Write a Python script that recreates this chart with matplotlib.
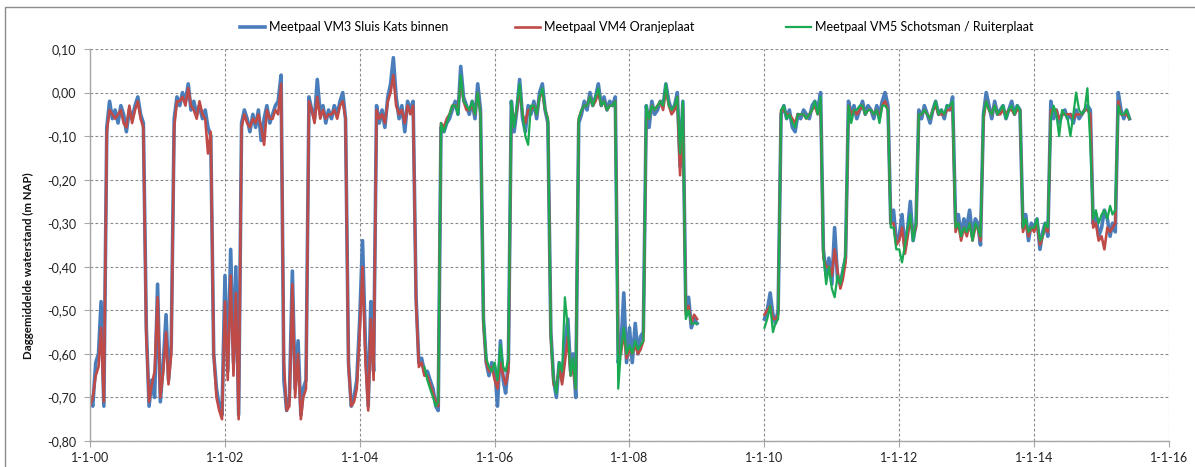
import datetime as dt
import numpy as np
import matplotlib
matplotlib.use("Agg")
import matplotlib.pyplot as plt
import matplotlib.dates as mdates
from matplotlib.ticker import FuncFormatter
from matplotlib.patches import Rectangle

# ---- data: daily-mean water level (cm NAP) read at the 1st and 16th of each month
NA = None
vm3_cm = (
    [-70, -72, -62, -60, -48, -72, -8, -2, -6, -4, -7, -3, -5, -9, -4, -6, -3, -1, -5, -7, -54, -72, -66, -70]  # 2000
    + [-44, -71, -62, -51, -66, -58, -6, -1, -3, 0, -2, 2, -4, -2, -5, -3, -6, -4, -8, -10, -60, -68, -72, -74]  # 2001
    + [-42, -64, -36, -62, -40, -74, -7, -4, -6, -9, -5, -8, -4, -11, -6, -3, -7, -5, -3, -2, 4, -66, -73, -70]  # 2002
    + [-41, -68, -57, -74, -68, -66, -1, -4, -6, 3, -5, -3, -7, -4, -6, -3, -5, -2, 0, -6, -62, -72, -70, -66]  # 2003
    + [-52, -34, -58, -72, -48, -64, -3, -7, -4, -8, -1, 2, 8, -1, -6, -3, -9, -2, -4, -2, -47, -62, -61, -64]  # 2004
    + [-64, -66, -68, -72, -73, -8, -9, -7, -6, -4, -2, -5, 6, -1, -3, -5, -2, -6, 2, -4, -52, -62, -65, -62]  # 2005
    + [-63, -72, -57, -66, -69, -62, -2, -9, -4, 3, -6, -9, -3, -5, -2, -6, 0, 2, -4, -7, -55, -66, -70, -62]  # 2006
    + [-66, -58, -52, -64, -60, -70, -7, -5, -2, -4, 0, -3, -1, 2, -3, -1, -4, -2, -3, -1, -62, -58, -46, -62]  # 2007
    + [-54, -62, -53, -60, -56, -55, -3, -8, -2, -5, -4, -2, -3, 2, -2, -4, -3, 0, -17, -2, -50, -47, -54, -52]  # 2008
    + [-53] + [NA] * 23                                                                                           # 2009 (no data)
    + [-52, -50, -46, -51, -53, -50, -5, -3, -6, -4, -8, -9, -5, -6, -4, -5, -6, -3, -2, -4, 0, -36, -42, -38]  # 2010
    + [-44, -31, -43, -44, -41, -38, -2, -5, -3, -6, -4, -2, -5, -3, -4, -6, -3, -5, -2, 0, -3, -30, -27, -34]  # 2011
    + [-33, -28, -36, -31, -25, -34, -30, -4, -6, -3, -5, -7, -4, -2, -5, -4, -6, -3, -4, -1, -30, -28, -33, -29]  # 2012
    + [-31, -27, -33, -29, -30, -35, -5, 0, -3, -6, -2, -5, -4, -3, -6, -4, -2, -5, -3, -4, -31, -28, -34, -30]  # 2013
    + [-31, -29, -36, -32, -30, -33, -2, -6, -4, -7, -5, -4, -6, -5, -7, -4, -6, -5, -4, -3, -4, -30, -28, -33]  # 2014
    + [-31, -27, -29, -33, -30, -32, 0, -4, -6, -4, -6]                                                         # 2015
)
vm4_cm = (
    [-72, -70, -65, -63, -54, -71, -9, -4, -5, -6, -5, -4, -7, -8, -3, -7, -4, -2, -6, -8, -56, -71, -67, -64]
    + [-47, -70, -64, -55, -67, -60, -8, -2, -2, -1, -3, 1, -3, -4, -6, -2, -5, -6, -14, -9, -60, -70, -73, -75]
    + [-48, -66, -42, -65, -46, -75, -8, -5, -7, -8, -6, -7, -5, -8, -12, -4, -6, -6, -4, -5, 2, -62, -73, -72]
    + [-44, -70, -60, -75, -70, -68, -2, -4, -7, -1, -6, -4, -6, -5, -5, -4, -6, -3, -2, -6, -63, -72, -71, -68]
    + [-55, -40, -62, -73, -52, -66, -4, -6, -5, -7, -2, 0, 4, -3, -5, -4, -7, -3, -5, -3, -48, -63, -62, -65]
    + [-65, -67, -69, -71, -72, -7, -8, -6, -5, -3, -3, -4, 3, -2, -4, -4, -3, -5, 0, -5, -53, -62, -64, -63]
    + [-66, -68, -62, -65, -67, -64, -3, -7, -4, 1, -5, -7, -4, -4, -3, -5, -1, 0, -4, -6, -56, -67, -68, -63]
    + [-67, -62, -56, -65, -63, -68, -6, -4, -3, -3, -1, -3, -2, 0, -3, -2, -4, -3, -3, -2, -60, -60, -55, -61]
    + [-59, -60, -58, -60, -59, -57, -4, -6, -3, -4, -3, -2, -4, 1, -3, -5, -4, -1, -19, -3, -51, -49, -53, -51]
    + [-52] + [NA] * 23
    + [-51, -50, -49, -52, -52, -51, -4, -4, -5, -5, -6, -7, -5, -5, -5, -6, -5, -4, -3, -5, -2, -38, -40, -40]
    + [-42, -36, -41, -45, -43, -39, -3, -5, -4, -5, -4, -3, -5, -4, -4, -5, -4, -6, -3, -2, -4, -30, -30, -35]
    + [-34, -31, -37, -33, -29, -33, -31, -5, -5, -4, -5, -6, -4, -3, -5, -5, -5, -4, -4, -3, -32, -30, -34, -31]
    + [-33, -30, -34, -31, -31, -34, -6, -2, -4, -5, -3, -5, -5, -4, -5, -4, -4, -5, -4, -4, -32, -30, -33, -31]
    + [-32, -30, -35, -33, -31, -32, -4, -4, -4, -6, -5, -5, -5, -5, -6, -5, -5, -5, -4, -4, -5, -31, -30, -34]
    + [-33, -36, -31, -32, -31, -30, -2, -5, -5, -5, -6]
)
vm5_cm = (
    [NA] * 96 + [NA] * 23 + [-63]                                                                               # 2000-2004
    + [-66, -68, -70, -72, -71, -7, -9, -7, -5, -3, -3, -5, 4, -2, -3, -4, -2, -5, 0, -5, -52, -61, -63, -64]
    + [-62, -66, -58, -63, -64, -61, -2, -8, -3, 2, -5, -10, -12, -3, -3, -5, -1, 1, -4, -6, -56, -66, -69, -62]
    + [-64, -47, -54, -65, -61, -68, -6, -4, -3, -3, -1, -3, -1, 1, -3, -2, -4, -3, -3, -2, -68, -59, -54, -60]
    + [-58, -60, -57, -59, -58, -57, -3, -6, -3, -4, -3, -2, -3, 2, -3, -4, -3, -1, -14, -2, -52, -50, -53, -53]
    + [-53] + [NA] * 23
    + [-54, -52, -49, -55, -53, -52, -4, -3, -6, -5, -7, -8, -5, -5, -5, -6, -5, -4, -2, -5, -1, -37, -44, -40]
    + [-45, -47, -42, -44, -41, -37, -3, -7, -4, -4, -3, -3, -5, -4, -4, -5, -4, -7, -3, -3, -4, -31, -31, -36]
    + [-36, -39, -35, -31, -28, -34, -30, -5, -5, -4, -5, -6, -4, -2, -5, -4, -5, -3, -3, -2, -31, -30, -33, -31]
    + [-32, -30, -34, -30, -31, -33, -5, -2, -4, -5, -3, -5, -4, -3, -6, -4, -3, -5, -3, -4, -31, -29, -32, -31]
    + [-31, -29, -34, -33, -30, -31, -6, -3, -5, -10, -4, -5, -6, -10, -5, 0, -4, -5, -4, 1, -12, -29, -27, -30]
    + [-28, -27, -29, -26, -28, -27, -3, -5, -5, -4, -6]
)
series_names = ["Meetpaal VM3 Sluis Kats binnen", "Meetpaal VM4 Oranjeplaat",
                "Meetpaal VM5 Schotsman / Ruiterplaat"]
y_ticks = [0.10, 0.0, -0.10, -0.20, -0.30, -0.40, -0.50, -0.60, -0.70, -0.80]

# sample dates: 1st and 16th of every month, Jan 2000 .. 1 Jun 2015
dates = []
for yr in range(2000, 2016):
    for mo in range(1, 13):
        for dy in (1, 16):
            d = dt.date(yr, mo, dy)
            if d <= dt.date(2015, 6, 1):
                dates.append(d)

def to_m(lst):
    return np.array(lst, dtype=float) / 100.0

plt.rcParams['font.family'] = ['Lato', 'DejaVu Sans']
W, H = 1195, 467
fig = plt.figure(figsize=(W / 100, H / 100), dpi=100)
ax = fig.add_axes([90 / W, 26 / H, (1169 - 90) / W, (441 - 49) / H])

colors = ["#4A7EBB", "#BE4B48", "#1BAA54"]
widths = [2.6, 1.9, 1.6]
handles = []
for vals, name, c, w in zip([vm3_cm, vm4_cm, vm5_cm], series_names, colors, widths):
    h, = ax.plot(dates, to_m(vals), color=c, lw=w, label=name, solid_joinstyle='round')
    handles.append(h)

ax.set_xlim(dt.date(2000, 1, 1), dt.date(2016, 1, 1))
ax.set_ylim(-0.80, 0.10)
ax.set_yticks(y_ticks)
ax.yaxis.set_major_formatter(FuncFormatter(lambda v, p: f"{v:.2f}".replace(".", ",").replace("-0,00", "0,00")))
ax.xaxis.set_major_locator(mdates.YearLocator(2))

def fmt_date(v, p):
    d = mdates.num2date(v)
    return f"{d.day}-{d.month}-{d.year % 100:02d}"

ax.xaxis.set_major_formatter(FuncFormatter(fmt_date))

grid_kw = dict(color="#8a8a8a", lw=0.8, ls=(0, (2.5, 2)))
ax.grid(True, which='major', axis='both', **grid_kw)
ax.set_axisbelow(True)
for s in ("top", "right"):
    ax.spines[s].set_visible(False)
for s in ("left", "bottom"):
    ax.spines[s].set_color("#a6a6a6")
    ax.spines[s].set_linewidth(1.0)
ax.tick_params(axis='both', colors="#a6a6a6", length=4, width=0.8, labelcolor="#222222", labelsize=9)
ax.tick_params(axis='y', pad=6)
ax.tick_params(axis='x', pad=4)

ax.set_ylabel("Daggemiddelde waterstand (m NAP)", fontsize=8.3, fontweight='bold', color="#111111")
ax.yaxis.set_label_coords((34 - 90) / (1169 - 90), (441 - 266) / (441 - 49))

# legend: Excel-style equally spaced entries
for h, x0 in zip(handles, [240, 515, 786]):
    fig.legend(handles=[h], loc='center left', bbox_to_anchor=(x0 / W, 1 - 27 / H), frameon=False,
               fontsize=9, handlelength=2.0, handletextpad=0.3, borderpad=0, borderaxespad=0)

fig.patches.append(Rectangle((5 / W, -0.02), 1.0, 1 - 7 / H + 0.02, transform=fig.transFigure,
                             fill=False, edgecolor="#8c8c8c", lw=1.0))

fig.savefig("out.png", dpi=100)
